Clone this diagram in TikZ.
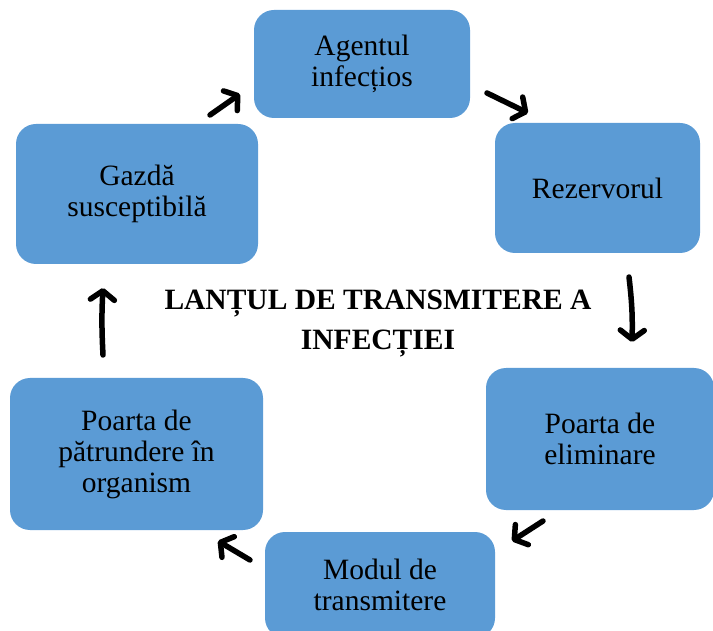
\documentclass[tikz,border=0pt]{standalone}
\usepackage{fontspec}
\setmainfont{Liberation Serif}
\usetikzlibrary{arrows.meta}
\definecolor{boxblue}{HTML}{5B9BD5}
\begin{document}
\begin{tikzpicture}[x=1pt,y=-1pt,
  stagebox/.style={fill=boxblue, draw=none, rounded corners=20pt, align=center,
    inner sep=0pt, font=\fontsize{29.5}{31}\selectfont},
  flow/.style={line width=5.5pt, line cap=round, line join=round,
    -{Straight Barb[length=9pt,width=24pt,line cap=round,line join=round]}},
  title/.style={align=center, font=\bfseries\fontsize{29.5}{40}\selectfont}]
\useasboundingbox (0,0) rectangle (713,631);
\begin{scope}
\clip (0,0) rectangle (713,631);
% the six stages of the chain
\node[stagebox, minimum width=216pt, minimum height=108pt] (agent) at (362,64) {Agentul\\infecțios};
\node[stagebox, minimum width=205pt, minimum height=130pt] (rez) at (597.5,188) {Rezervorul};
\node[stagebox, minimum width=228pt, minimum height=142pt] (elim) at (600,439) {Poarta de\\eliminare};
\node[stagebox, minimum width=230pt, minimum height=106pt] (modul) at (380,585) {Modul de\\transmitere};
\node[stagebox, minimum width=253pt, minimum height=152pt] (patr) at (136.5,454) {Poarta de\\pătrundere în\\organism};
\node[stagebox, minimum width=242pt, minimum height=140pt] (gazda) at (137,194) {Gazdă\\susceptibilă};
\end{scope}
% title in the middle of the ring
\node[title] (ttl) at (378,324) {LANȚUL DE TRANSMITERE A\\INFECȚIEI};
% arrow end points between neighbouring stages
\coordinate (g2a) at (210,115); \coordinate (g2b) at (240,94);
\coordinate (a2a) at (487,93);  \coordinate (a2b) at (528,113);
\coordinate (r2a) at (629,277); \coordinate (r2b) at (632,342);
\coordinate (e2a) at (543,521); \coordinate (e2b) at (512,541);
\coordinate (m2a) at (250,560); \coordinate (m2b) at (218,541);
\coordinate (p2a) at (103,355); \coordinate (p2b) at (103,288);
\draw[flow] (g2a) -- (g2b);
\draw[flow] (a2a) -- (a2b);
\draw[flow] (r2a) to[bend left=4] (r2b);
\draw[flow] (e2a) -- (e2b);
\draw[flow] (m2a) -- (m2b);
\draw[flow] (p2a) to[bend left=3] (p2b);
\end{tikzpicture}
\end{document}
